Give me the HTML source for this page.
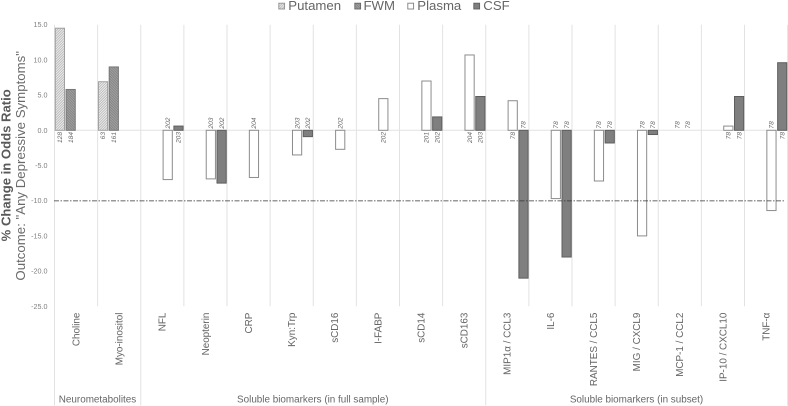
<!DOCTYPE html>
<html>
<head>
<meta charset="utf-8">
<style>
html,body{margin:0;padding:0;background:#fff;}
svg{display:block;font-family:"Liberation Sans",sans-serif;}
</style>
</head>
<body>
<svg id="chart" width="788" height="406" viewBox="0 0 788 406" xmlns="http://www.w3.org/2000/svg">
<defs>
<pattern id="hatch-light" width="1.8" height="1.8" patternUnits="userSpaceOnUse" patternTransform="rotate(45)">
<rect width="1.8" height="1.8" fill="#eeeeee"/>
<rect width="0.8" height="1.8" fill="#b4b4b4"/>
</pattern>
<pattern id="hatch-dark" width="1.8" height="1.8" patternUnits="userSpaceOnUse" patternTransform="rotate(-45)">
<rect width="1.8" height="1.8" fill="#a2a2a2"/>
<rect width="0.8" height="1.8" fill="#808080"/>
</pattern>
</defs>
<g id="grid"></g>
<g id="bars"></g>
<g id="labels"></g>
<g id="yticks"></g>
<g id="cats"></g>
<line id="threshold" x1="54" x2="785" stroke="#333333" stroke-width="0.8" stroke-dasharray="5 1.5 1.5 1.5"/>
<text transform="translate(10.5,165.3) rotate(-90)" text-anchor="middle" font-size="13.1" font-weight="bold" fill="#595959">% Change in Odds Ratio</text>
<text transform="translate(25,165.8) rotate(-90)" text-anchor="middle" font-size="13.25" fill="#6a6a6a">Outcome: "Any Depressive Symptoms"</text>
<text x="97.5" y="402.5" text-anchor="middle" font-size="9.9" fill="#666">Neurometabolites</text>
<text x="312.8" y="402.5" text-anchor="middle" font-size="9.9" fill="#666">Soluble biomarkers (in full sample)</text>
<text x="636.5" y="402.5" text-anchor="middle" font-size="9.9" fill="#666">Soluble biomarkers (in subset)</text>
<g>
<g>
<rect x="278.8" y="3.2" width="5.8" height="5.8" fill="url(#hatch-light)" stroke="#909090" stroke-width="0.9"/>
<text x="288.3" y="10.2" font-size="13.2" fill="#666">Putamen</text>
</g>
<g>
<rect x="354.8" y="3.2" width="5.8" height="5.8" fill="url(#hatch-dark)" stroke="#666" stroke-width="0.9"/>
<text x="363.5" y="10.2" font-size="13.2" fill="#666">FWM</text>
</g>
<g>
<rect x="407.8" y="3.2" width="5.8" height="5.8" fill="#fff" stroke="#808080" stroke-width="0.9"/>
<text x="417.3" y="10.2" font-size="13.2" fill="#666">Plasma</text>
</g>
<g>
<rect x="473.8" y="3.2" width="5.8" height="5.8" fill="#7f7f7f" stroke="#5e5e5e" stroke-width="0.9"/>
<text x="483.3" y="10.2" font-size="13.2" fill="#666">CSF</text>
</g>
</g>
</svg>
<script>
const categories = ["Choline","Myo-inositol","NFL","Neopterin","CRP","Kyn:Trp","sCD16","I-FABP","sCD14","sCD163","MIP1α / CCL3","IL-6","RANTES / CCL5","MIG / CXCL9","MCP-1 / CCL2","IP-10 / CXCL10","TNF-α"];
const yTicks = [15,10,5,0,-5,-10,-15,-20,-25];
const thresholdValue = -10;
const putamen = [14.5,6.9,null,null,null,null,null,null,null,null,null,null,null,null,null,null,null];
const fwm = [5.8,9.0,null,null,null,null,null,null,null,null,null,null,null,null,null,null,null];
const plasma = [null,null,-7.0,-6.9,-6.7,-3.5,-2.7,4.5,7.0,10.7,4.2,-9.7,-7.2,-15.0,null,0.6,-11.4];
const csf = [null,null,0.6,-7.5,null,-0.9,null,null,1.9,4.8,-21.0,-18.0,-1.8,-0.6,null,4.8,9.6];
const putamenN = [128,63,null,null,null,null,null,null,null,null,null,null,null,null,null,null,null];
const fwmN = [184,161,null,null,null,null,null,null,null,null,null,null,null,null,null,null,null];
const plasmaN = [null,null,202,203,204,203,202,202,201,204,78,78,78,78,78,78,78];
const csfN = [null,null,203,202,null,202,null,null,202,203,78,78,78,78,78,78,78];

const NS = "http://www.w3.org/2000/svg";
const plotLeft = 54.5, catWidth = 43.125, zeroY = 130.3, unit = 7.04;
function xBand(i){ return plotLeft + i * catWidth; }
function yScale(v){ return zeroY - v * unit; }
function make(tag, attrs, parent){
  const el = document.createElementNS(NS, tag);
  for (const k in attrs) el.setAttribute(k, attrs[k]);
  parent.appendChild(el);
  return el;
}
const grid = document.getElementById("grid");
const barsG = document.getElementById("bars");
const labelsG = document.getElementById("labels");
const ticksG = document.getElementById("yticks");
const catsG = document.getElementById("cats");

document.getElementById("threshold").setAttribute("y1", yScale(thresholdValue) + 0.2);
document.getElementById("threshold").setAttribute("y2", yScale(thresholdValue) + 0.2);

const separators = [0, 2, 10, 17];
for (let i = 0; i <= categories.length; i++) {
  const bottom = separators.indexOf(i) >= 0 ? 405.5 : yScale(-25);
  const line = make("line", {x1: xBand(i), x2: xBand(i), y1: yScale(15), y2: bottom, stroke: "#e2e2e2", "stroke-width": 1}, grid);
  
  
}
const zeroLine = make("line", {x1: plotLeft, x2: 787, y1: yScale(0), y2: yScale(0), stroke: "#e2e2e2", "stroke-width": 1}, grid);



yTicks.forEach(function(t){
  const el = make("text", {x: 47.5, y: yScale(t) + 2.5, "text-anchor": "end", "font-size": 7.2, fill: "#808080"}, ticksG);
  el.textContent = t.toFixed(1);
  
  
});

categories.forEach(function(c, i){
  const cx = xBand(i) + catWidth / 2 + 3.4;
  const el = make("text", {transform: "translate(" + cx + ",312.6) rotate(-90)", "text-anchor": "end", "font-size": 9.9, fill: "#666"}, catsG);
  el.textContent = c;
  
  
});

const seriesStyles = [
  {vals: putamen, ns: putamenN, fill: "url(#hatch-light)", stroke: "#a0a0a0"},
  {vals: fwm, ns: fwmN, fill: "url(#hatch-dark)", stroke: "#777777"},
  {vals: plasma, ns: plasmaN, fill: "#ffffff", stroke: "#8c8c8c"},
  {vals: csf, ns: csfN, fill: "#7f7f7f", stroke: "#5e5e5e"}
];
const slotWidth = catWidth / 4;
seriesStyles.forEach(function(s, si){
  s.vals.forEach(function(v, i){
    const center = xBand(i) + (si + 0.5) * slotWidth;
    if (v !== null) {
      const y0 = yScale(Math.max(v, 0)), y1 = yScale(Math.min(v, 0));
      const bar = make("rect", {x: center - 4.6, y: y0, width: 9.2, height: y1 - y0, fill: s.fill, stroke: s.stroke, "stroke-width": 1}, barsG);
      
      
    }
    const n = s.ns[i];
    if (n !== null) {
      const above = v === null || v < 0;
      const lx = center + 2.2 - (v === null ? 8 : 0);
      const ly = above ? 128.6 : 132;
      const lab = make("text", {transform: "translate(" + lx + "," + ly + ") rotate(-90)", "text-anchor": above ? "start" : "end", "font-size": 6.6, "font-style": "italic", fill: "#666"}, labelsG);
      lab.textContent = n;
      
      
    }
  });
});
</script>
</body>
</html>
